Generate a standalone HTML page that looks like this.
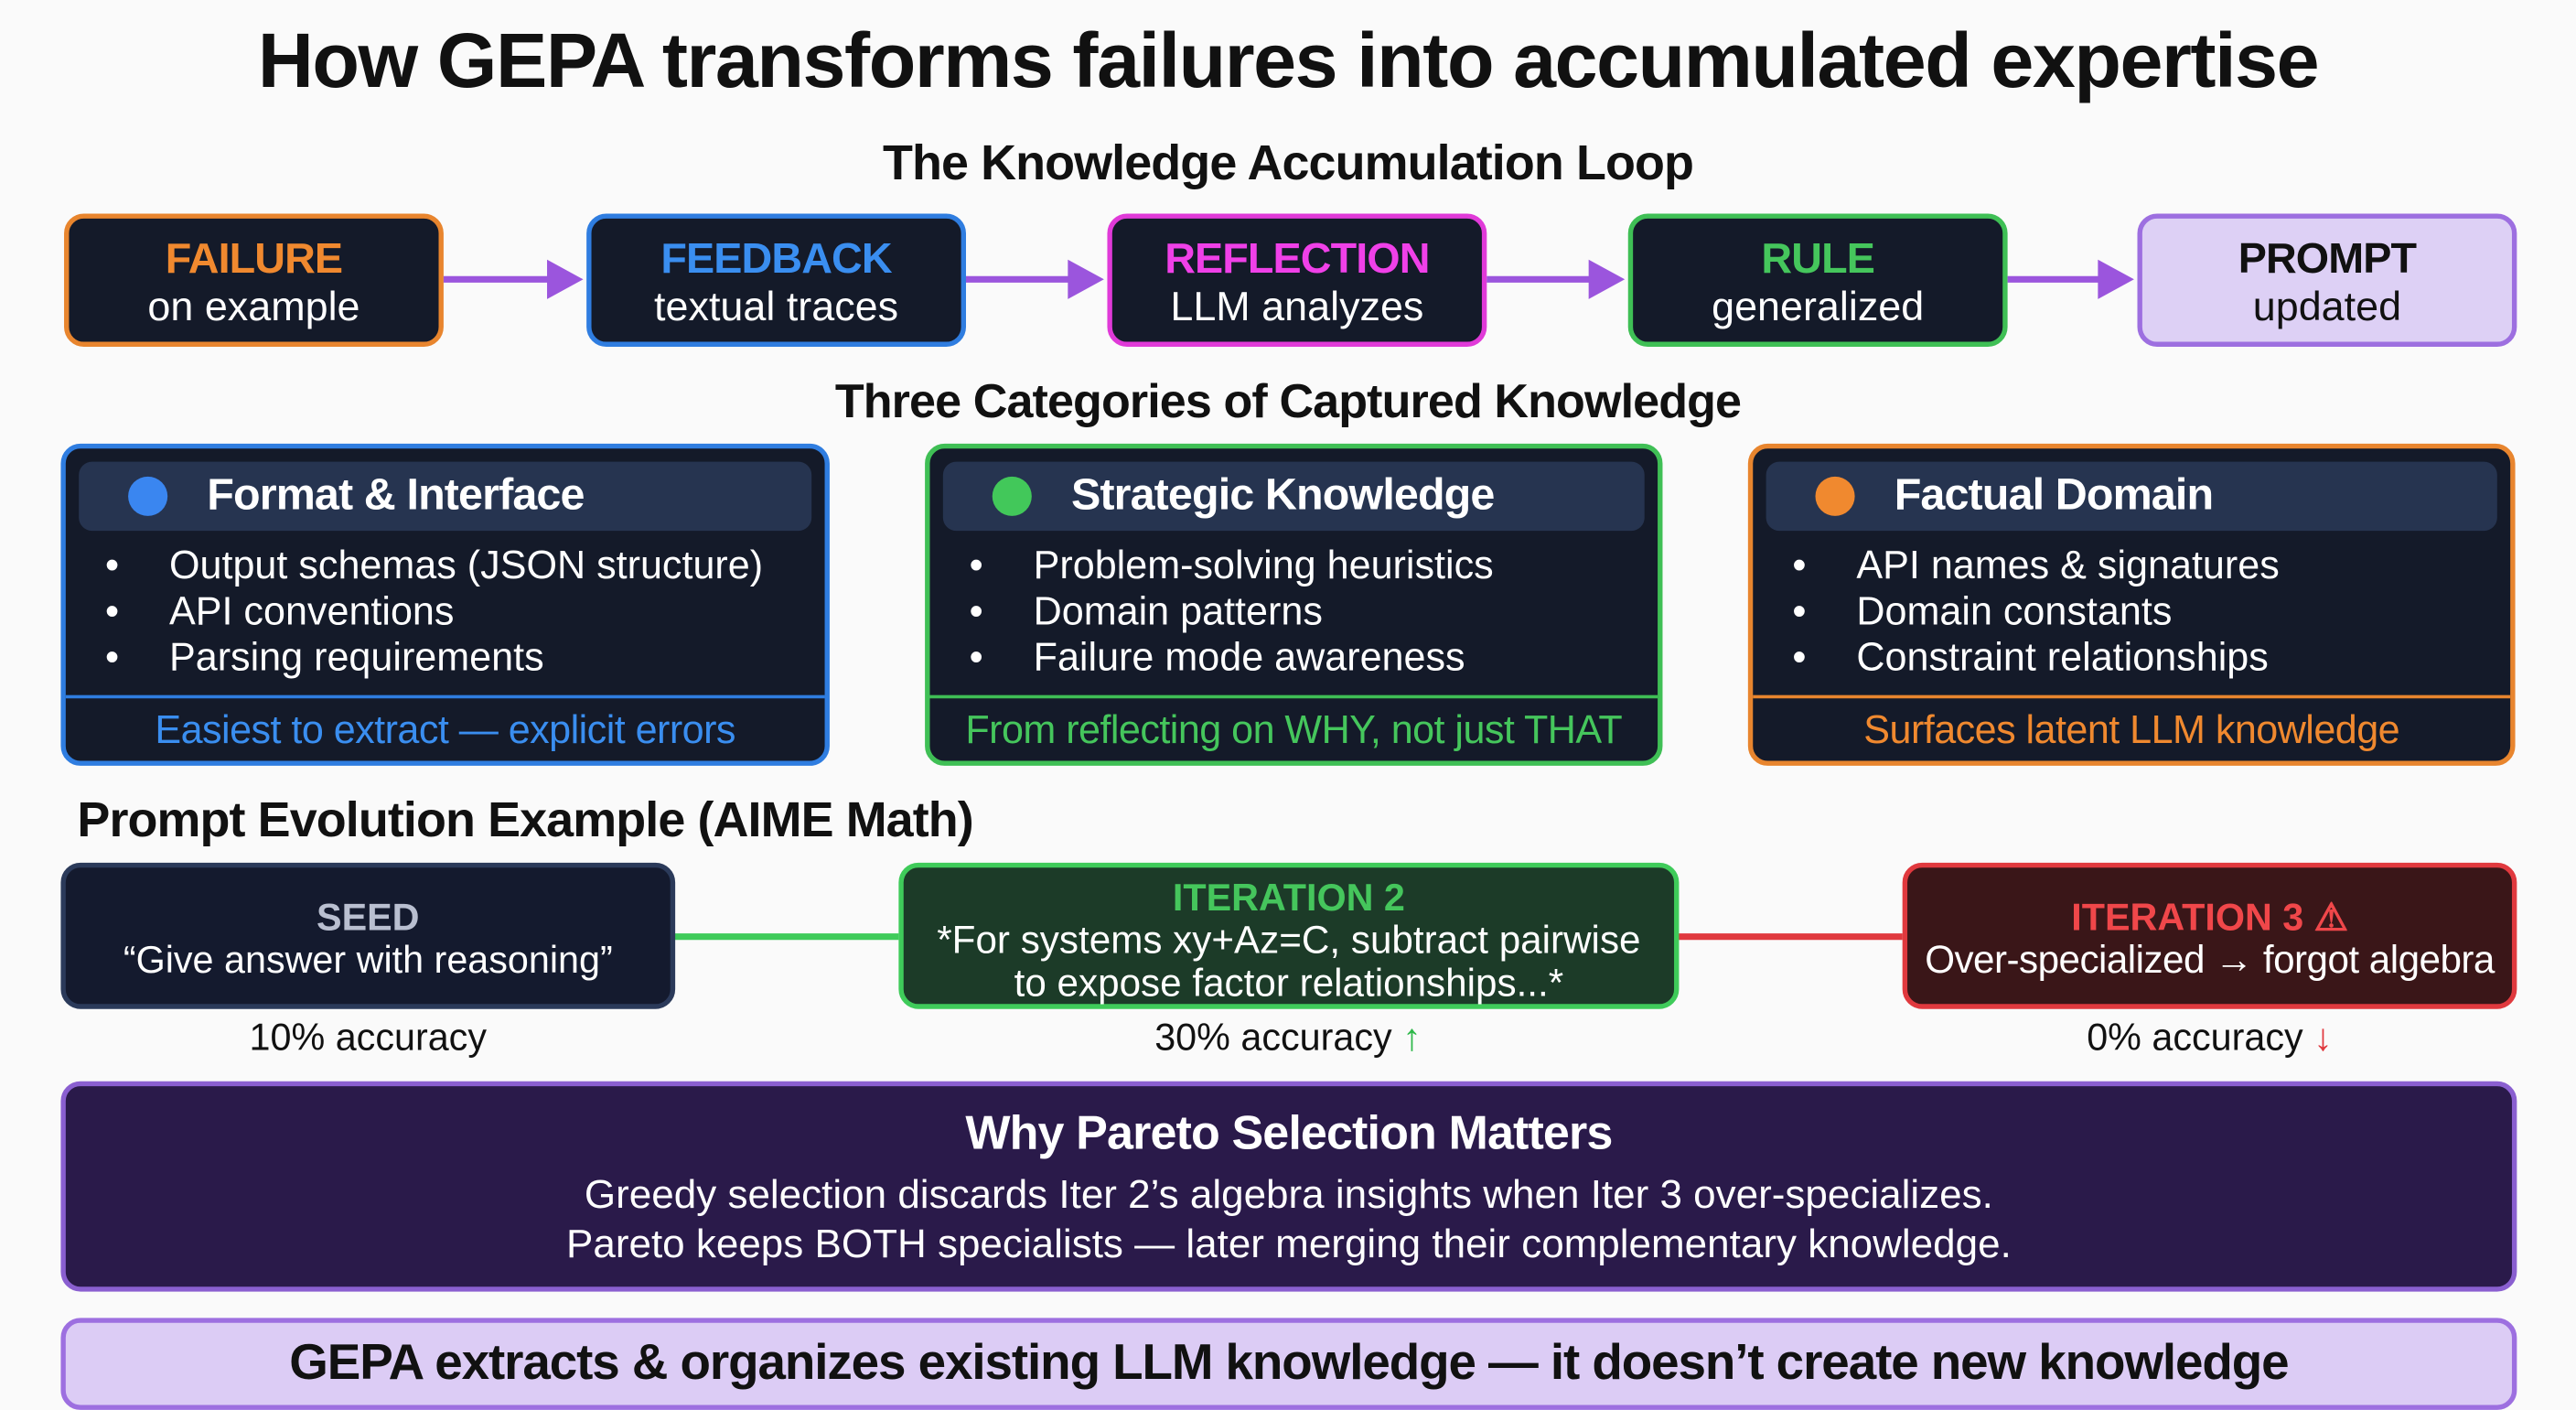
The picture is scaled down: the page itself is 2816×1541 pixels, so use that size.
<!DOCTYPE html>
<html><head><meta charset="utf-8"><style>
html,body{margin:0;padding:0;background:#fafafa;}
body{width:2816px;height:1536px;overflow:hidden;}
#s{position:absolute;left:0;top:0;width:1568px;height:855px;transform:scale(1.79592);transform-origin:0 0;font-family:"Liberation Sans",sans-serif;}
.a{position:absolute;}
.t{position:absolute;white-space:nowrap;text-align:center;}
.box{position:absolute;box-sizing:border-box;border:3px solid;border-radius:12px;background:#141a29;}
.lab{font-weight:bold;font-size:26px;letter-spacing:-0.5px;}
.sub{font-size:25px;color:#fff;}
.cat{position:absolute;box-sizing:border-box;border:3px solid;border-radius:12px;background:#141a29;}
.hd{position:absolute;left:8px;right:8px;top:8px;height:42px;background:#263450;border-radius:8px;}
.dot{position:absolute;left:30px;top:9px;width:24px;height:24px;border-radius:50%;}
.hdt{position:absolute;left:78px;top:5px;font-size:27px;font-weight:bold;color:#fff;letter-spacing:-0.5px;white-space:nowrap;}
.ul{position:absolute;left:24px;top:58px;color:#fff;font-size:24px;line-height:28px;white-space:nowrap;}
.ul span{display:inline-block;width:39px;}
.div{position:absolute;left:0;right:0;top:150px;height:2px;}
.ft{position:absolute;left:0;right:0;top:158px;text-align:center;font-size:24px;white-space:nowrap;letter-spacing:-0.3px;}
</style></head><body><div id="s">
<div class="t" style="left:0;width:1568px;top:9px;font-size:47px;font-weight:bold;letter-spacing:-0.8px;color:#111;">How GEPA transforms failures into accumulated expertise</div>
<div class="t" style="left:0;width:1568px;top:83px;font-size:30px;font-weight:bold;letter-spacing:-0.5px;color:#111;">The Knowledge Accumulation Loop</div>

<div class="box" style="left:39px;top:130px;width:231px;height:81px;border-color:#e8852e;"><div class="t lab" style="left:0;right:0;top:9px;color:#f0892f;">FAILURE</div><div class="t sub" style="left:0;right:0;top:40px;">on example</div></div>
<div class="box" style="left:357px;top:130px;width:231px;height:81px;border-color:#2f7de0;"><div class="t lab" style="left:0;right:0;top:9px;color:#3a8ef0;">FEEDBACK</div><div class="t sub" style="left:0;right:0;top:40px;">textual traces</div></div>
<div class="box" style="left:674px;top:130px;width:231px;height:81px;border-color:#e03ad8;"><div class="t lab" style="left:0;right:0;top:9px;color:#f040e8;">REFLECTION</div><div class="t sub" style="left:0;right:0;top:40px;">LLM analyzes</div></div>
<div class="box" style="left:991px;top:130px;width:231px;height:81px;border-color:#3fbf55;"><div class="t lab" style="left:0;right:0;top:9px;color:#45c65c;">RULE</div><div class="t sub" style="left:0;right:0;top:40px;">generalized</div></div>
<div class="box" style="left:1301px;top:130px;width:231px;height:81px;border-color:#9d6fe0;background:#ddd0f5;"><div class="t lab" style="left:0;right:0;top:9px;color:#111;">PROMPT</div><div class="t sub" style="left:0;right:0;top:40px;color:#111;">updated</div></div>

<svg class="a" style="left:0;top:0" width="1568" height="855">
<g fill="#9b55dd" stroke="#9b55dd">
<line x1="270" y1="170" x2="335" y2="170" stroke-width="4"/><polygon points="333,158 355,170 333,182" stroke="none"/>
<line x1="588" y1="170" x2="652" y2="170" stroke-width="4"/><polygon points="650,158 672,170 650,182" stroke="none"/>
<line x1="905" y1="170" x2="969" y2="170" stroke-width="4"/><polygon points="967,158 989,170 967,182" stroke="none"/>
<line x1="1222" y1="170" x2="1279" y2="170" stroke-width="4"/><polygon points="1277,158 1299,170 1277,182" stroke="none"/>
</g>
<line x1="410" y1="570" x2="547" y2="570" stroke="#3fcb5a" stroke-width="4"/>
<line x1="1021" y1="570" x2="1158" y2="570" stroke="#e0393e" stroke-width="4"/>
</svg>

<div class="t" style="left:0;width:1568px;top:229px;font-size:29px;font-weight:bold;letter-spacing:-0.5px;color:#111;">Three Categories of Captured Knowledge</div>

<div class="cat" style="left:37px;top:270px;width:468px;height:196px;border-color:#2f7de0;">
<div class="hd"><div class="dot" style="background:#3a86f0"></div><div class="hdt">Format &amp; Interface</div></div>
<div class="ul"><span>•</span>Output schemas (JSON structure)<br><span>•</span>API conventions<br><span>•</span>Parsing requirements</div>
<div class="div" style="background:#2f7de0"></div>
<div class="ft" style="color:#3a8ef0">Easiest to extract — explicit errors</div></div>

<div class="cat" style="left:563px;top:270px;width:449px;height:196px;border-color:#3fbf55;">
<div class="hd"><div class="dot" style="background:#42c85a"></div><div class="hdt">Strategic Knowledge</div></div>
<div class="ul"><span>•</span>Problem-solving heuristics<br><span>•</span>Domain patterns<br><span>•</span>Failure mode awareness</div>
<div class="div" style="background:#3fbf55"></div>
<div class="ft" style="color:#45c65c">From reflecting on WHY, not just THAT</div></div>

<div class="cat" style="left:1064px;top:270px;width:467px;height:196px;border-color:#e8852e;">
<div class="hd"><div class="dot" style="background:#f0892f"></div><div class="hdt">Factual Domain</div></div>
<div class="ul"><span>•</span>API names &amp; signatures<br><span>•</span>Domain constants<br><span>•</span>Constraint relationships</div>
<div class="div" style="background:#e8852e"></div>
<div class="ft" style="color:#f0892f">Surfaces latent LLM knowledge</div></div>

<div class="t" style="left:47px;top:483px;font-size:30px;font-weight:bold;letter-spacing:-0.5px;color:#111;text-align:left;">Prompt Evolution Example (AIME Math)</div>

<div class="box" style="left:37px;top:525px;width:374px;height:89px;border-color:#2b3a5a;background:#141a2e;">
<div class="t" style="left:0;right:0;top:17px;font-size:23px;font-weight:bold;color:#b9bfd0;">SEED</div>
<div class="t" style="left:0;right:0;top:43px;font-size:23px;color:#fff;">“Give answer with reasoning”</div></div>
<div class="box" style="left:547px;top:525px;width:475px;height:89px;border-color:#3fcb5a;background:#1c3b28;">
<div class="t" style="left:0;right:0;top:5px;font-size:23px;font-weight:bold;color:#45c65c;">ITERATION 2</div>
<div class="t" style="left:0;right:0;top:31px;font-size:23.5px;color:#fff;">*For systems xy+Az=C, subtract pairwise</div>
<div class="t" style="left:0;right:0;top:57px;font-size:23.5px;color:#fff;">to expose factor relationships...*</div></div>
<div class="box" style="left:1158px;top:525px;width:374px;height:89px;border-color:#e0393e;background:#3a1618;">
<div class="t" style="left:0;right:0;top:17px;font-size:23px;font-weight:bold;color:#f0474a;">ITERATION 3 ⚠</div>
<div class="t" style="left:0;right:0;top:43px;font-size:23.5px;color:#fff;letter-spacing:-0.3px;">Over-specialized → forgot algebra</div></div>

<div class="t" style="left:37px;width:374px;top:618px;font-size:23px;color:#111;">10% accuracy</div>
<div class="t" style="left:459px;width:650px;top:618px;font-size:23px;color:#111;">30% accuracy <span style="color:#2fb84a">↑</span></div>
<div class="t" style="left:1158px;width:374px;top:618px;font-size:23px;color:#111;">0% accuracy <span style="color:#e0393e">↓</span></div>

<div class="box" style="left:37px;top:658px;width:1495px;height:128px;border-color:#8a5fd0;background:#2a1a4a;">
<div class="t" style="left:0;right:0;top:13px;font-size:29px;font-weight:bold;color:#fff;letter-spacing:-0.5px;">Why Pareto Selection Matters</div>
<div class="t" style="left:0;right:0;top:53px;font-size:24.5px;color:#fff;">Greedy selection discards Iter 2’s algebra insights when Iter 3 over-specializes.</div>
<div class="t" style="left:0;right:0;top:83px;font-size:24.5px;color:#fff;">Pareto keeps BOTH specialists — later merging their complementary knowledge.</div></div>

<div class="box" style="left:37px;top:802px;width:1495px;height:56px;border-color:#9d6fe0;background:#dcccf5;">
<div class="t" style="left:0;right:0;top:7px;font-size:30.5px;font-weight:bold;color:#111;letter-spacing:-0.6px;">GEPA extracts &amp; organizes existing LLM knowledge — it doesn’t create new knowledge</div></div>
</div></body></html>
